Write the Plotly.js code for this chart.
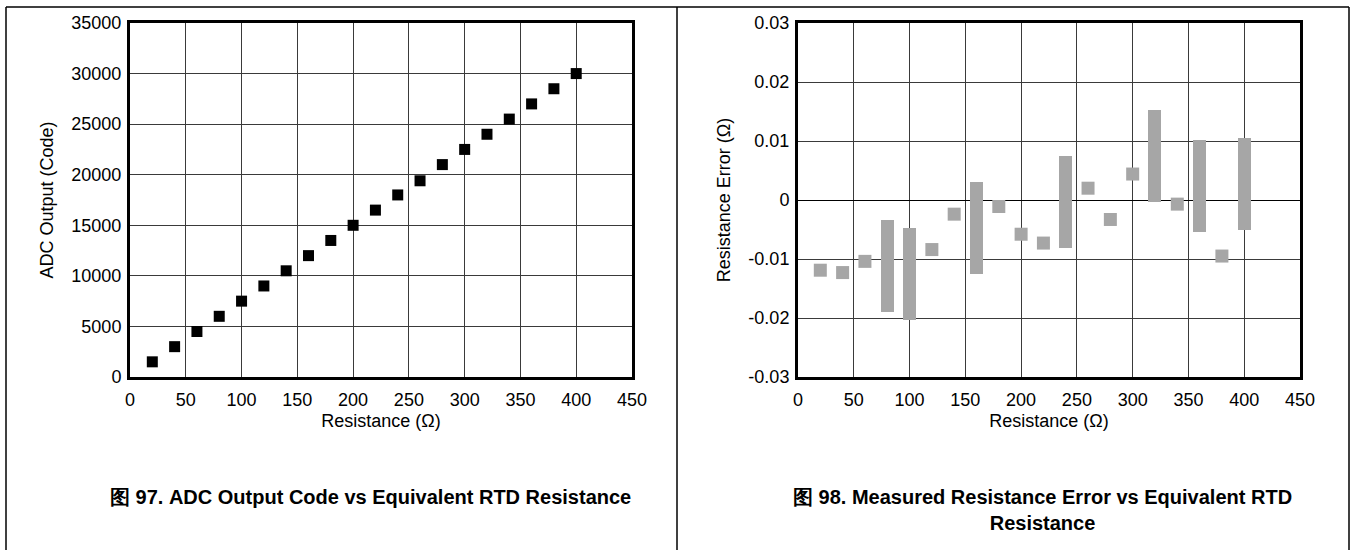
<!DOCTYPE html>
<html>
<head>
<meta charset="utf-8">
<script src="https://cdn.plot.ly/plotly-3.0.1.min.js"></script>
<style>
  html, body { margin: 0; padding: 0; background: #fff; }
  #chart { width: 1351px; height: 550px; }
</style>
</head>
<body>
<div id="chart"></div>
<script>
// ---- Data: Figure 97 (ADC output code vs resistance) ----
const resistance = [20, 40, 60, 80, 100, 120, 140, 160, 180, 200, 220, 240, 260, 280, 300, 320, 340, 360, 380, 400];
const adcCode = [1500, 3000, 4500, 6000, 7500, 9000, 10500, 12000, 13500, 15000, 16500, 18000, 19400, 21000, 22500, 24000, 25500, 27000, 28500, 30000];

// ---- Data: Figure 98 (measured resistance error, min / max per resistance) ----
const errLow  = [-0.0119, -0.0123, -0.0104, -0.0189, -0.0203, -0.0084, -0.0024, -0.0125, -0.0011, -0.0058, -0.0073, -0.0081, 0.0020, -0.0033, 0.0044, -0.0003, -0.0007, -0.0054, -0.0095, -0.0050];
const errHigh = [-0.0119, -0.0123, -0.0104, -0.0034, -0.0047, -0.0084, -0.0024, 0.0031, -0.0011, -0.0058, -0.0073, 0.0075, 0.0020, -0.0033, 0.0044, 0.0153, -0.0007, 0.0101, -0.0095, 0.0105];

// ---- Tick labels ----
const xTickVals = [0, 50, 100, 150, 200, 250, 300, 350, 400, 450];
const y1TickVals = [0, 5000, 10000, 15000, 20000, 25000, 30000, 35000];
const y1TickText = ['0', '5000', '10000', '15000', '20000', '25000', '30000', '35000'];
const y2TickVals = [-0.03, -0.02, -0.01, 0, 0.01, 0.02, 0.03];
const y2TickText = ['-0.03', '-0.02', '-0.01', '0', '0.01', '0.02', '0.03'];

// ---- Text ----
const xTitle = 'Resistance (\u03A9)';
const y1Title = 'ADC Output (Code)';
const y2Title = 'Resistance Error (\u03A9)';
const caption1 = '图 97. ADC Output Code vs Equivalent RTD Resistance';
const caption2 = '图 98. Measured Resistance Error vs Equivalent RTD<br>Resistance';

// split error data into single-valued points and ranges
const ptX = [], ptY = [], rgX = [], rgBase = [], rgLen = [];
for (let i = 0; i < resistance.length; i++) {
  if (errHigh[i] === errLow[i]) { ptX.push(resistance[i]); ptY.push(errLow[i]); }
  else { rgX.push(resistance[i]); rgBase.push(errLow[i]); rgLen.push(errHigh[i] - errLow[i]); }
}

const W = 1351, H = 550;
const FONT = 'Liberation Sans, Arial, Helvetica, sans-serif';
const GREY = '#a6a6a6';

const traces = [
  {
    type: 'scatter', mode: 'markers', x: resistance, y: adcCode,
    xaxis: 'x', yaxis: 'y',
    marker: { symbol: 'square', size: 11, color: '#000', line: { width: 0 } },
    hoverinfo: 'x+y', showlegend: false
  },
  {
    type: 'bar', x: rgX, y: rgLen, base: rgBase,
    xaxis: 'x2', yaxis: 'y2', width: 11.65,
    marker: { color: GREY, line: { width: 0 } },
    showlegend: false
  },
  {
    type: 'scatter', mode: 'markers', x: ptX, y: ptY,
    xaxis: 'x2', yaxis: 'y2',
    marker: { symbol: 'square', size: 13, color: GREY, line: { width: 0 } },
    showlegend: false
  }
];

const yDom = [1 - 377 / H, 1 - 23 / H];
function xAxis(domain, anchor) {
  return {
    domain: domain, anchor: anchor, range: [0, 450], tickvals: xTickVals,
    showgrid: true, gridcolor: '#3a3a3a', gridwidth: 1,
    zeroline: false, showline: true, linecolor: '#000', linewidth: 3, mirror: true,
    ticks: '', ticklabelstandoff: 4, tickfont: { family: FONT, size: 18, color: '#000' },
    title: { text: xTitle, font: { family: FONT, size: 18, color: '#000' }, standoff: 6 },
    fixedrange: true
  };
}
function yAxis(anchor, range, vals, text, title) {
  return {
    domain: yDom, anchor: anchor, range: range, tickvals: vals, ticktext: text,
    showgrid: true, gridcolor: '#3a3a3a', gridwidth: 1,
    zeroline: true, zerolinecolor: '#000', zerolinewidth: 1,
    showline: true, linecolor: '#000', linewidth: 3, mirror: true,
    ticks: '', ticklabelstandoff: 2, tickfont: { family: FONT, size: 18, color: '#000' },
    title: { text: title, font: { family: FONT, size: 18, color: '#000' }, standoff: 14 },
    fixedrange: true
  };
}

const layout = {
  width: W, height: H,
  margin: { l: 0, r: 0, t: 0, b: 0, pad: 0 },
  paper_bgcolor: '#fff', plot_bgcolor: '#fff',
  font: { family: FONT, color: '#000' },
  showlegend: false,
  bargap: 0,
  xaxis: xAxis([130 / W, 632 / W], 'y'),
  yaxis: yAxis('x', [0, 35000], y1TickVals, y1TickText, y1Title),
  xaxis2: xAxis([798 / W, 1300 / W], 'y2'),
  yaxis2: yAxis('x2', [-0.03, 0.03], y2TickVals, y2TickText, y2Title),
  shapes: [
    { type: 'line', xref: 'paper', yref: 'paper', x0: 6 / W, x1: 1349 / W, y0: 1 - 7 / H, y1: 1 - 7 / H, line: { color: '#000', width: 1.5 } },
    { type: 'line', xref: 'paper', yref: 'paper', x0: 6 / W, x1: 6 / W, y0: 0, y1: 1 - 7 / H, line: { color: '#000', width: 1.5 } },
    { type: 'line', xref: 'paper', yref: 'paper', x0: 677 / W, x1: 677 / W, y0: 0, y1: 1 - 7 / H, line: { color: '#000', width: 1.5 } },
    { type: 'line', xref: 'paper', yref: 'paper', x0: 1349 / W, x1: 1349 / W, y0: 0, y1: 1 - 7 / H, line: { color: '#000', width: 1.5 } }
  ],
  annotations: [
    { xref: 'paper', yref: 'paper', x: 370 / W, y: 1 - 497 / H, xanchor: 'center', yanchor: 'middle',
      text: '<b>' + caption1 + '</b>', showarrow: false, font: { family: FONT, size: 20, color: '#000' } },
    { xref: 'paper', yref: 'paper', x: 1042 / W, y: 1 - 510 / H, xanchor: 'center', yanchor: 'middle',
      text: '<b>' + caption2 + '</b>', showarrow: false, align: 'center', font: { family: FONT, size: 20, color: '#000' } }
  ]
};

Plotly.newPlot('chart', traces, layout, { staticPlot: true, displayModeBar: false });
</script>
</body>
</html>
